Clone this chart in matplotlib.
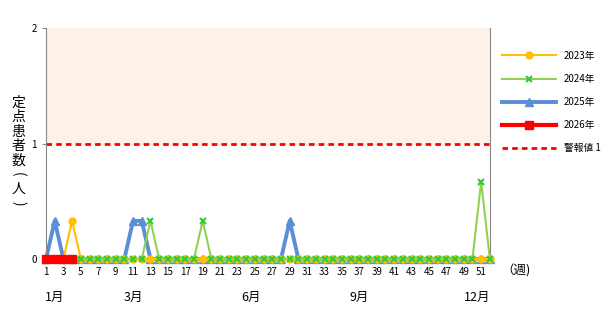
import matplotlib.pyplot as plt

plt.rcParams['font.family'] = ['Noto Sans CJK JP', 'DejaVu Sans']

weeks = list(range(1, 53))
v2023 = [0, 0, 0, 0.33] + [0] * 48
v2024 = [0] * 52
v2024[12] = 0.33
v2024[18] = 0.33
v2024[50] = 0.67
v2025 = [0] * 52
v2025[1] = 0.33
v2025[10] = 0.33
v2025[11] = 0.33
v2025[28] = 0.33
w2026 = [1, 2, 3, 4]
v2026 = [0, 0, 0, 0]
alert = 1
months = ['1月', '3月', '6月', '9月', '12月']
month_pos = [2, 11, 24.5, 37, 50.5]
ylabel_chars = ['定', '点', '患', '者', '数', '(', '人', ')']

fig = plt.figure(figsize=(6.08, 3.12), dpi=100)
ax = fig.add_axes([0.0757, 0.170, 0.730, 0.740])

ax.axhspan(1, 2, color='#FDF1E9', zorder=0)
ax.plot(weeks, v2025, color='#5B8ED6', lw=2.8, marker='^', ms=5.5, label='2025年', zorder=2, clip_on=False)
ax.plot(weeks, v2023, color='#FFC000', lw=1.5, marker='o', ms=5, label='2023年', zorder=3, clip_on=False)
ax.plot(weeks, v2024, color='#92D050', lw=1.5, marker='x', ms=4, mew=1.5, mec='#33CC33', label='2024年', zorder=4, clip_on=False)
ax.plot(w2026, v2026, color='#FF0000', lw=3, marker='s', ms=6, label='2026年', zorder=5, clip_on=False)
ax.axhline(alert, color='#FF0000', lw=2, ls=(0, (2, 1.5)), label='警報値 1', zorder=1)

ax.set_xlim(1, 52)
ax.set_ylim(0, 2)
ax.set_yticks([0, 1, 2])
ax.set_xticks(range(1, 52, 2))
ax.tick_params(labelsize=7, length=3, color='#888888')
ax.tick_params(axis='x', length=0, pad=6)
for s in ['top', 'bottom']:
    ax.spines[s].set_visible(False)
ax.spines['left'].set_color('#888888')
ax.spines['right'].set_color('#888888')
ax.axhline(0, color='#888888', lw=1, zorder=0.5)

for m, p in zip(months, month_pos):
    ax.text(p, -0.33, m, ha='center', va='center', fontsize=9, clip_on=False)
ax.text(55, -0.1, '（週)', ha='center', va='center', fontsize=9, clip_on=False)

# vertical y label, one character per line
y0 = 0.67
for i, ch in enumerate(ylabel_chars):
    rot = -90 if ch in '()' else 0
    fig.text(0.03, y0 - i * 0.046, ch, ha='center', va='center', fontsize=10, rotation=rot)

h, l = ax.get_legend_handles_labels()
order = [1, 2, 0, 3, 4]
fig.legend([h[i] for i in order], [l[i] for i in order], loc='upper left',
           bbox_to_anchor=(0.812, 0.865), frameon=False, fontsize=7,
           handlelength=5.5, labelspacing=1.35)

fig.savefig('out.png', dpi=100)
